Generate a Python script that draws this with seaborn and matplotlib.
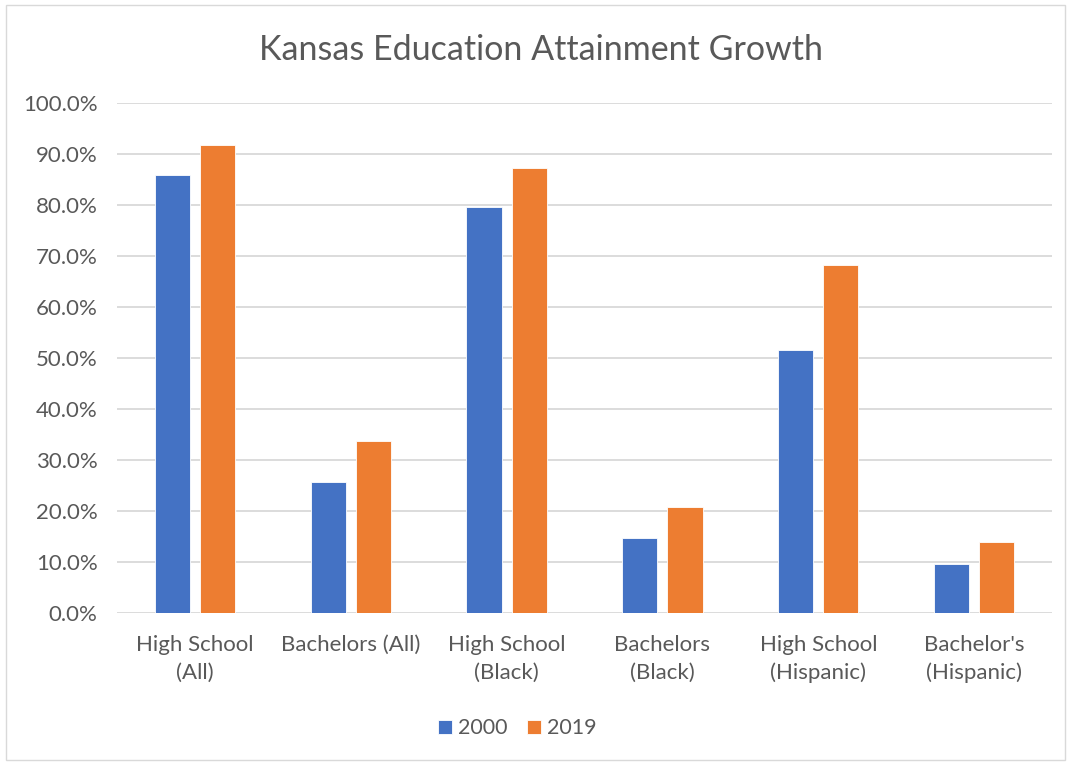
import pandas as pd
import matplotlib.pyplot as plt
import seaborn as sns
from matplotlib.patches import Rectangle
from matplotlib.ticker import PercentFormatter

# ---------------------------
# Data
# ---------------------------
categories = ["High School\n(All)", "Bachelors (All)", "High School\n(Black)",
              "Bachelors\n(Black)", "High School\n(Hispanic)", "Bachelor's\n(Hispanic)"]
years = ["2000", "2019"]
values_2000 = [85.9, 25.7, 79.6, 14.8, 51.6, 9.6]
values_2019 = [91.7, 33.8, 87.3, 20.8, 68.3, 14.0]

df = pd.DataFrame({
    "category": categories * 2,
    "year": [years[0]] * len(categories) + [years[1]] * len(categories),
    "value": values_2000 + values_2019,
})

# ---------------------------
# Style
# ---------------------------
sns.set_theme(style="white")
plt.rcParams["font.family"] = ["Lato", "DejaVu Sans"]
text_color = "#595959"
colors = {"2000": "#4472C4", "2019": "#ED7D31"}

fig = plt.figure(figsize=(10.71, 7.65), dpi=100)
ax = fig.add_axes([0.1092, 0.1987, 0.8731, 0.6667])

sns.barplot(data=df, x="category", y="value", hue="year", palette=colors,
            width=0.58, gap=0.22, ax=ax, saturation=1, edgecolor="white", linewidth=0.6)

ax.set_ylim(0, 100)
ax.set_yticks(range(0, 101, 10))
ax.yaxis.set_major_formatter(PercentFormatter(decimals=1))
ax.set_xlim(-0.5, len(categories) - 0.5)
ax.grid(axis="y", color="#D9D9D9", linewidth=1.3)
ax.set_axisbelow(True)
for side in ["top", "right", "left", "bottom"]:
    ax.spines[side].set_visible(False)
ax.set_xlabel("")
ax.set_ylabel("")
ax.tick_params(axis="y", length=0, pad=14, labelsize=16, labelcolor=text_color)
ax.tick_params(axis="x", length=0, pad=16, labelsize=16, labelcolor=text_color)
for lbl in ax.get_xticklabels():
    lbl.set_linespacing(1.45)

fig.text(0.505, 0.935, "Kansas Education Attainment Growth", ha="center", va="center",
         fontsize=24.5, color=text_color)

sns.move_legend(ax, "center", bbox_to_anchor=(0.483, 0.048), bbox_transform=fig.transFigure,
                ncol=2, frameon=False, title=None, fontsize=15.5, handlelength=0.65,
                handleheight=0.65, handletextpad=0.3, columnspacing=0.9)
for t in ax.get_legend().get_texts():
    t.set_color(text_color)

# thin chart border like the original
fig.patches.append(Rectangle((0.006, 0.007), 0.988, 0.986, transform=fig.transFigure,
                             fill=False, edgecolor="#D9D9D9", linewidth=1))

fig.savefig("out.png", dpi=100)
